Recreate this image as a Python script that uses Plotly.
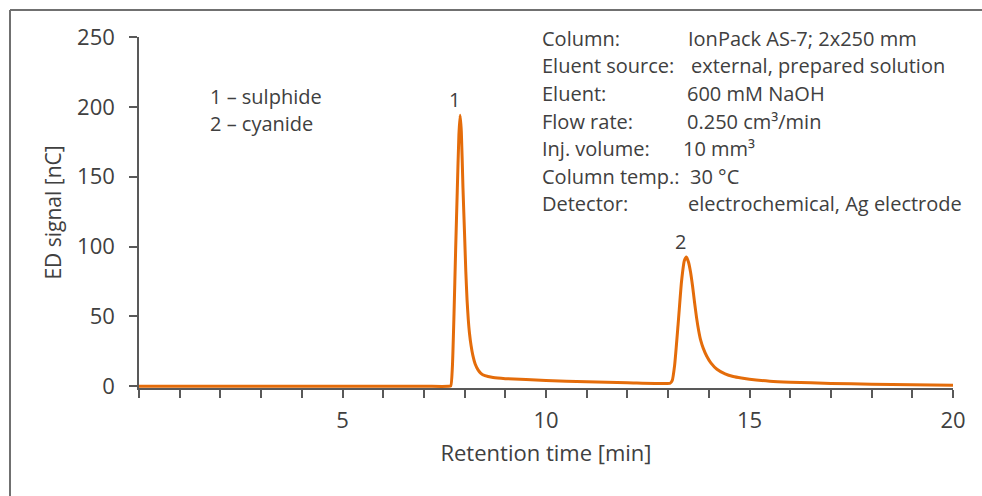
import plotly.graph_objects as go

# ---- data ----
time_min = [0.0, 7.0, 7.60, 7.66, 7.70, 7.74, 7.78, 7.82, 7.86, 7.89, 7.92, 7.96,
            8.00, 8.03, 8.06, 8.09, 8.12, 8.16, 8.20, 8.26, 8.33, 8.40, 8.50, 8.70,
            9.00, 10.0, 11.0, 12.0, 12.9, 13.05, 13.10, 13.16, 13.25, 13.33, 13.40,
            13.45, 13.50, 13.55, 13.60, 13.65, 13.70, 13.75, 13.80, 13.86, 13.95,
            14.05, 14.2, 14.4, 14.6, 14.8, 15.0, 15.5, 16.0, 17.0, 18.0, 19.0, 20.0]
signal_nC = [0.0, 0.0, 0.0, 0.3, 14, 52, 98, 140, 180, 194, 182, 142,
             108, 82, 62, 48, 38, 29, 22.5, 16, 11.8, 9.3, 7.6, 6.3,
             5.5, 4.2, 3.2, 2.6, 2.0, 2.2, 4.0, 15, 46, 75, 90,
             92.5, 89, 82, 72, 60, 49, 40, 33, 27.5, 21.5,
             16.8, 12.2, 8.9, 7.0, 5.9, 5.0, 3.7, 3.0, 2.1, 1.5, 1.1, 0.8]

x_tick_vals = list(range(0, 21))
x_tick_text = ["" if (v % 5 or v == 0) else str(v) for v in x_tick_vals]
y_tick_vals = [0, 50, 100, 150, 200, 250]

peak_labels = ["1", "2"]
peak_windows = [(7.0, 10.0), (12.5, 15.0)]
legend_lines = ["1 – sulphide", "2 – cyanide"]
info_labels = ["Column:", "Eluent source:", "Eluent:", "Flow rate:", "Inj. volume:",
               "Column temp.:", "Detector:"]
info_values = ["IonPack AS-7; 2x250 mm", "external, prepared solution", "600 mM NaOH",
               "0.250 cm³/min", "10 mm³", "30 °C", "electrochemical, Ag electrode"]

# ---- layout geometry ----
W, H = 982, 496
L, R, T = 139, 29, 37
B = 108
X0, X1 = 139, 953
Y_TOP, Y_ZERO = 37, 386

FONT = "Open Sans"
TXT = "#404040"
AX = "#595959"
ORANGE = "#E46C0A"
TXT_SIZE = 20

fig = go.Figure()
fig.add_trace(go.Scatter(x=time_min, y=signal_nC, mode="lines",
                         line=dict(color=ORANGE, width=3, shape="spline", smoothing=0.5),
                         hoverinfo="skip", showlegend=False))

# peak number labels at each peak apex
for lab, (a, b) in zip(peak_labels, peak_windows):
    pts = [(t, s) for t, s in zip(time_min, signal_nC) if a <= t <= b]
    tp, sp = max(pts, key=lambda p: p[1])
    fig.add_annotation(x=tp, y=sp, text=lab, showarrow=False, xanchor="center",
                       yanchor="bottom", yshift=0, xshift=-6,
                       font=dict(family=FONT, size=20, color=TXT))

def py_to_paper(py):
    return (Y_ZERO - py) / (Y_ZERO - Y_TOP) * (250 / 251.2) + 1.2 / 251.2

def px_to_paper(px):
    return (px - X0) / (X1 - X0)

# compound list
for i, line in enumerate(legend_lines):
    fig.add_annotation(xref="paper", yref="paper", x=px_to_paper(208), y=py_to_paper(96 + 27 * i),
                       text=line, showarrow=False, xanchor="left", yanchor="middle",
                       font=dict(family=FONT, size=TXT_SIZE, color=TXT))

# conditions box
rows_y = [38, 65, 93, 121, 148, 176, 203]
vals_x = [686, 689, 685, 685, 681, 688, 686]
for lab, val, ry, vx in zip(info_labels, info_values, rows_y, vals_x):
    fig.add_annotation(xref="paper", yref="paper", x=px_to_paper(540), y=py_to_paper(ry),
                       text=lab, showarrow=False, xanchor="left", yanchor="middle",
                       font=dict(family=FONT, size=TXT_SIZE, color=TXT))
    fig.add_annotation(xref="paper", yref="paper", x=px_to_paper(vx), y=py_to_paper(ry),
                       text=val, showarrow=False, xanchor="left", yanchor="middle",
                       font=dict(family=FONT, size=TXT_SIZE, color=TXT))

# outer frame (top and left edges visible)
fx = px_to_paper(10)
fy = py_to_paper(10)
fig.add_shape(type="line", xref="paper", yref="paper", x0=fx, y0=fy, x1=1.1, y1=fy,
              line=dict(color="#707070", width=2))
fig.add_shape(type="line", xref="paper", yref="paper", x0=fx, y0=fy, x1=fx, y1=-0.5,
              line=dict(color="#707070", width=2))

fig.update_layout(
    width=W, height=H,
    margin=dict(l=L, r=R, t=T, b=B, pad=0),
    paper_bgcolor="white", plot_bgcolor="white",
    showlegend=False,
    font=dict(family=FONT, color=TXT),
    xaxis=dict(range=[0, 20], tickvals=x_tick_vals, ticktext=x_tick_text,
               showgrid=False, zeroline=False, showline=True, linecolor=AX, linewidth=1.5,
               ticks="outside", ticklen=8, tickwidth=1.5, tickcolor=AX,
               tickfont=dict(family=FONT, size=22, color=TXT), ticklabelstandoff=4,
               title=dict(text="Retention time [min]", font=dict(family=FONT, size=22, color=TXT),
                          standoff=12)),
    yaxis=dict(range=[-1.2, 250], tickvals=y_tick_vals,
               showgrid=False, zeroline=False, showline=True, linecolor=AX, linewidth=1.5,
               ticks="outside", ticklen=8, tickwidth=1.5, tickcolor=AX,
               tickfont=dict(family=FONT, size=22, color=TXT), ticklabelstandoff=10,
               title=dict(text="ED signal [nC]", font=dict(family=FONT, size=21, color=TXT),
                          standoff=10)),
)

fig.write_html("out.html")
